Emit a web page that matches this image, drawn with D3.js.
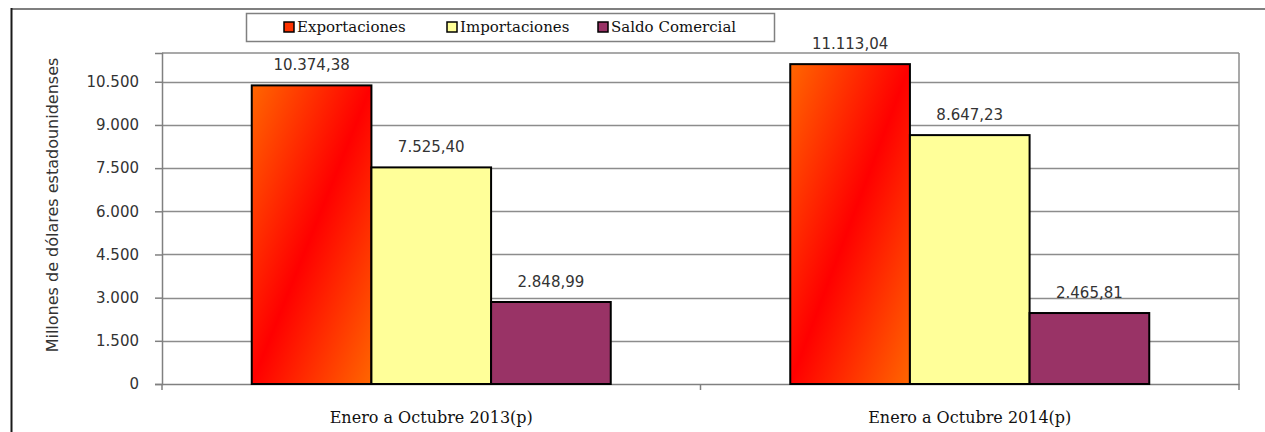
<!DOCTYPE html>
<html>
<head>
<meta charset="utf-8">
<script src="https://d3js.org/d3.v7.min.js"></script>
<style>
  html, body { margin: 0; padding: 0; background: #fff; }
  svg { display: block; }
</style>
</head>
<body>
<div id="chart"></div>
<script>
// Data
const categories = ['Enero a Octubre 2013(p)', 'Enero a Octubre 2014(p)'];
const seriesNames = ['Exportaciones', 'Importaciones', 'Saldo Comercial'];
const exportaciones = [10374.38, 11113.04];
const importaciones = [7525.40, 8647.23];
const saldoComercial = [2848.99, 2465.81];
const yTicks = [0, 1500, 3000, 4500, 6000, 7500, 9000, 10500];

const seriesValues = [exportaciones, importaciones, saldoComercial];

const width = 1265, height = 432;
const plot = { left: 162, right: 1239, top: 53, bottom: 384 };

const svg = d3.select('#chart').append('svg')
    .attr('width', width)
    .attr('height', height)
    .attr('viewBox', `0 0 ${width} ${height}`);

const defs = svg.append('defs');

const fills = [null, '#ffff99', '#993366'];
const legendFills = ['#ff3300', '#ffff99', '#993366'];

// Outer frame (runs off the right and bottom edge)
svg.append('line').attr('x1', 11.5).attr('x2', width).attr('y1', 9).attr('y2', 9)
    .attr('stroke', '#7f7f7f').attr('stroke-width', 2);
svg.append('line').attr('x1', 11.5).attr('x2', 11.5).attr('y1', 8).attr('y2', height)
    .attr('stroke', '#1a1a1a').attr('stroke-width', 2);

// Scales
const y = d3.scaleLinear().domain([0, 11500]).range([plot.bottom, plot.top]);
const x0 = d3.scaleBand().domain(categories).range([plot.left, plot.right]).padding(0);
const x1 = d3.scaleBand().domain(seriesNames).range([0, x0.bandwidth()])
    .paddingInner(0).paddingOuter(0.75);

// Gridlines
svg.append('g')
    .selectAll('line')
    .data(yTicks.filter(d => d > 0))
    .enter().append('line')
    .attr('x1', plot.left).attr('x2', plot.right)
    .attr('y1', d => Math.round(y(d)) + 0.5).attr('y2', d => Math.round(y(d)) + 0.5)
    .attr('stroke', '#8c8c8c').attr('stroke-width', 1.5);

// Plot area border (top and right)
svg.append('line').attr('x1', plot.left).attr('x2', plot.right)
    .attr('y1', plot.top).attr('y2', plot.top)
    .attr('stroke', '#8c8c8c').attr('stroke-width', 1.5);
svg.append('line').attr('x1', plot.right).attr('x2', plot.right)
    .attr('y1', plot.top).attr('y2', plot.bottom)
    .attr('stroke', '#8c8c8c').attr('stroke-width', 1.5);

// Y axis
const yAxis = d3.axisLeft(y)
    .tickValues(yTicks)
    .tickSize(7)
    .tickPadding(16)
    .tickFormat(d => d3.format(',')(d).replace(/,/g, '.'));
const gy = svg.append('g')
    .attr('transform', `translate(${plot.left},0)`)
    .call(yAxis);
gy.select('.domain').attr('stroke', '#808080').attr('stroke-width', 1.5);
gy.selectAll('.tick line').attr('stroke', '#808080').attr('stroke-width', 1.5);
gy.selectAll('.tick text')
    .attr('font-family', '"DejaVu Sans", sans-serif')
    .attr('font-size', 15)
    .attr('fill', '#333');

// X axis
const xAxis = d3.axisBottom(x0).tickSize(0).tickPadding(28);
const gx = svg.append('g')
    .attr('transform', `translate(0,${plot.bottom})`)
    .call(xAxis);
gx.select('.domain').attr('stroke', '#808080').attr('stroke-width', 1.5);
gx.selectAll('.tick text')
    .attr('font-family', '"DejaVu Serif", serif')
    .attr('font-size', 16)
    .attr('fill', '#111');
// category separators below the axis
const sepPos = [plot.left, ...categories.map(c => x0(c) + x0.bandwidth())];
gx.selectAll('.sep')
    .data(sepPos)
    .enter().append('line')
    .attr('class', 'sep')
    .attr('x1', d => d).attr('x2', d => d)
    .attr('y1', 0).attr('y2', 6)
    .attr('stroke', '#808080').attr('stroke-width', 1.5);

// Y axis title
svg.append('text')
    .attr('transform', `translate(58,205) rotate(-90)`)
    .attr('text-anchor', 'middle')
    .attr('font-family', '"DejaVu Sans", sans-serif')
    .attr('font-size', 16)
    .attr('fill', '#333')
    .text('Millones de dólares estadounidenses');

// Bars
const barData = (c, ci) => seriesNames.map((s, si) => ({ s, si, ci, v: seriesValues[si][ci] }));

// one gradient per export bar: orange corners, red along the rising diagonal
// (coordinates are local to the category group)
categories.forEach((c, ci) => {
    const bx = x1(seriesNames[0]);
    const bw = x1.bandwidth();
    const top = y(exportaciones[ci]);
    const bh = y(0) - top;
    const cx = bx + bw / 2, cy = top + bh / 2;
    const k = (bw * bh) / (bw * bw + bh * bh);
    const g = defs.append('linearGradient')
        .attr('id', 'expGrad' + ci)
        .attr('gradientUnits', 'userSpaceOnUse')
        .attr('x1', cx - bh * k).attr('y1', cy - bw * k)
        .attr('x2', cx + bh * k).attr('y2', cy + bw * k);
    g.append('stop').attr('offset', 0).attr('stop-color', '#ff6600');
    g.append('stop').attr('offset', 0.5).attr('stop-color', '#ff0000');
    g.append('stop').attr('offset', 1).attr('stop-color', '#ff6600');
});

const groups = svg.append('g').selectAll('g')
    .data(categories)
    .enter().append('g')
    .attr('transform', d => `translate(${x0(d)},0)`);

groups.selectAll('rect')
    .data(barData)
    .enter().append('rect')
    .attr('x', d => x1(d.s))
    .attr('y', d => y(d.v))
    .attr('width', x1.bandwidth())
    .attr('height', d => y(0) - y(d.v))
    .attr('fill', d => d.si === 0 ? `url(#expGrad${d.ci})` : fills[d.si])
    .attr('stroke', '#000')
    .attr('stroke-width', 2);

// Data labels
const fmtVal = v => d3.format(',.2f')(v).replace(/,/g, '#').replace('.', ',').replace(/#/g, '.');
groups.selectAll('text.val')
    .data(barData)
    .enter().append('text')
    .attr('class', 'val')
    .attr('x', d => x1(d.s) + x1.bandwidth() / 2)
    .attr('y', d => y(d.v) - 15)
    .attr('text-anchor', 'middle')
    .attr('font-family', '"DejaVu Sans", sans-serif')
    .attr('font-size', 15)
    .attr('fill', '#333')
    .text(d => fmtVal(d.v));

// Legend
const legend = svg.append('g');
legend.append('rect')
    .attr('x', 246.5).attr('y', 13.5)
    .attr('width', 528).attr('height', 28)
    .attr('fill', '#fff')
    .attr('stroke', '#808080').attr('stroke-width', 1.5);
const legendX = [284, 447, 598];
const items = legend.selectAll('g.item')
    .data(seriesNames)
    .enter().append('g')
    .attr('class', 'item')
    .attr('transform', (d, i) => `translate(${legendX[i]},22)`);
items.append('rect')
    .attr('width', 10).attr('height', 10)
    .attr('fill', (d, i) => legendFills[i])
    .attr('stroke', '#000').attr('stroke-width', 1.5);
items.append('text')
    .attr('x', 13).attr('y', 10)
    .attr('font-family', '"DejaVu Serif", serif')
    .attr('font-size', 15)
    .attr('fill', '#111')
    .text(d => d);
</script>
</body>
</html>
